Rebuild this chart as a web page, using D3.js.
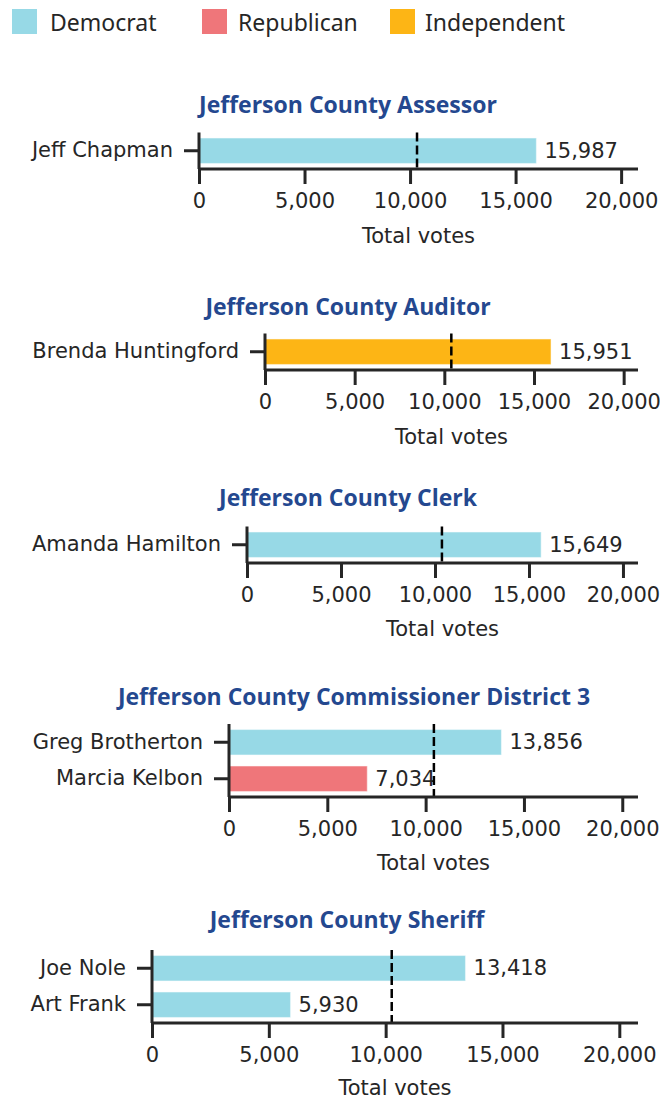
<!DOCTYPE html>
<html>
<head>
<meta charset="utf-8">
<script src="https://cdn.jsdelivr.net/npm/d3@7"></script>
<style>
  html, body { margin: 0; padding: 0; background: #ffffff; }
  svg { display: block; }
</style>
</head>
<body>
<svg id="chart" width="660" height="1099"></svg>
<script>
// ---- data ----
const partyNames = ["Democrat", "Republican", "Independent"];
const partyColors = ["#97d9e6", "#ef767a", "#fdb515"];
const races = [
  "Jefferson County Assessor",
  "Jefferson County Auditor",
  "Jefferson County Clerk",
  "Jefferson County Commissioner District 3",
  "Jefferson County Sheriff"
];
const candidates = [
  ["Jeff Chapman"],
  ["Brenda Huntingford"],
  ["Amanda Hamilton"],
  ["Greg Brotherton", "Marcia Kelbon"],
  ["Joe Nole", "Art Frank"]
];
const votes = [
  [15987],
  [15951],
  [15649],
  [13856, 7034],
  [13418, 5930]
];
const parties = [
  ["Democrat"],
  ["Independent"],
  ["Democrat"],
  ["Democrat", "Republican"],
  ["Democrat", "Democrat"]
];
const thresholds = [10330, 10390, 10370, 10420, 10260];
const xTicks = [0, 5000, 10000, 15000, 20000];
const xMax = 20800;
const xLabel = "Total votes";

// ---- layout ----
const panelLeft = [199, 265, 247, 229, 152];
const panelBottom = [169, 370, 563, 797, 1023];
const titleY = [104, 306, 497, 696, 919];
const titleX = [348, 348, 348, 354, 347];
const xLabelDy = [67, 67, 66, 66, 65];
const panelRight = 638;
const stepPx = 36.5;
const ink = "#262626";
const labelFont = "'DejaVu Sans', sans-serif";
const titleFont = "'Open Sans', Lato, sans-serif";

const svg = d3.select("#chart");
const color = d3.scaleOrdinal().domain(partyNames).range(partyColors);

// legend
const legend = svg.append("g");
const legendX = [12, 202, 390];
const legendTextX = [50, 238, 425];
partyNames.forEach((p, i) => {
  legend.append("rect").attr("x", legendX[i]).attr("y", 9).attr("width", 25).attr("height", 25)
    .attr("fill", color(p));
  legend.append("text").attr("x", legendTextX[i]).attr("y", 22)
    .attr("dominant-baseline", "central")
    .style("font-family", "'Noto Sans', sans-serif").style("font-size", "23px").attr("fill", ink)
    .text(p);
});

races.forEach((race, i) => {
  const left = panelLeft[i];
  const bottom = panelBottom[i];
  const n = candidates[i].length;
  const top = bottom - n * stepPx;
  const x = d3.scaleLinear().domain([0, xMax]).range([left, panelRight]);
  const y = d3.scaleBand().domain(candidates[i]).range([top, bottom]).paddingInner(0.3).paddingOuter(0.15);
  const g = svg.append("g");

  // title
  g.append("text").attr("x", titleX[i]).attr("y", titleY[i])
    .attr("text-anchor", "middle").attr("dominant-baseline", "central")
    .style("font-family", titleFont).style("font-weight", "700").style("font-size", "23px")
    .attr("fill", "#24488f").text(race);

  // bars
  const rows = candidates[i].map((c, j) => ({ name: c, v: votes[i][j], party: parties[i][j] }));
  g.selectAll("rect.bar").data(rows).join("rect").attr("class", "bar")
    .attr("x", x(0)).attr("y", d => y(d.name))
    .attr("width", d => x(d.v) - x(0)).attr("height", y.bandwidth())
    .attr("fill", d => color(d.party))
    .attr("stroke", "#ffffff").attr("stroke-opacity", 0.45).attr("stroke-width", 1.2);

  // value labels
  g.selectAll("text.val").data(rows).join("text").attr("class", "val")
    .attr("x", d => x(d.v) + 8).attr("y", d => y(d.name) + y.bandwidth() / 2)
    .attr("dominant-baseline", "central")
    .style("font-family", labelFont).style("font-size", "21px").attr("fill", ink)
    .text(d => d3.format(",")(d.v));

  // threshold
  g.append("line").attr("x1", x(thresholds[i])).attr("x2", x(thresholds[i]))
    .attr("y1", top).attr("y2", bottom)
    .attr("stroke", "#000").attr("stroke-width", 2.5).attr("stroke-dasharray", "9,4");

  // x axis
  const xa = g.append("g").attr("transform", `translate(0,${bottom})`)
    .call(d3.axisBottom(x).tickValues(xTicks).tickFormat(d3.format(",")).tickSize(15).tickPadding(9).tickSizeOuter(0));
  xa.select(".domain").attr("stroke", ink).attr("stroke-width", 3).attr("d", `M${left},0H${panelRight}`);
  xa.selectAll(".tick line").attr("stroke", ink).attr("stroke-width", 3);
  xa.selectAll(".tick text").style("font-family", labelFont).style("font-size", "21px").attr("fill", ink);

  // y axis
  const ya = g.append("g").attr("transform", `translate(${left},0)`)
    .call(d3.axisLeft(y).tickSize(15).tickPadding(11).tickSizeOuter(0));
  ya.select(".domain").attr("stroke", ink).attr("stroke-width", 3).attr("d", `M0,${top}V${bottom}`);
  ya.selectAll(".tick line").attr("stroke", ink).attr("stroke-width", 3);
  ya.selectAll(".tick text").style("font-family", labelFont).style("font-size", "21px").attr("fill", ink);

  // x label
  g.append("text").attr("x", (left + panelRight) / 2).attr("y", bottom + xLabelDy[i])
    .attr("text-anchor", "middle").attr("dominant-baseline", "central")
    .style("font-family", labelFont).style("font-size", "21px").attr("fill", ink)
    .text(xLabel);
});
</script>
</body>
</html>
